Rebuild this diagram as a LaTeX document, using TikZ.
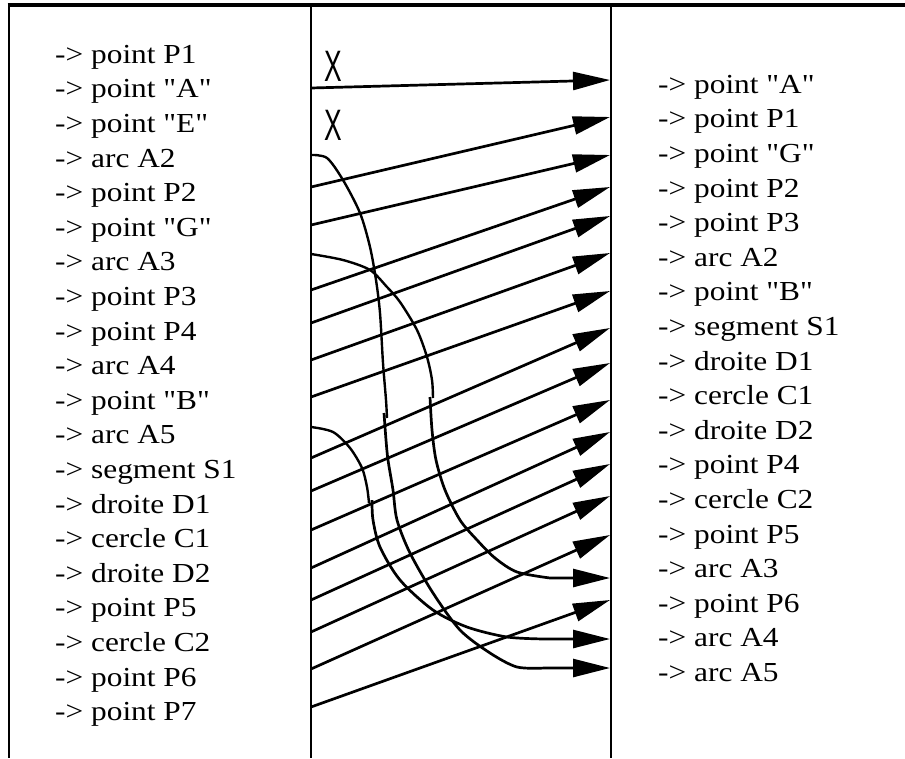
\documentclass[tikz,border=0pt]{standalone}
\usepackage{fontspec}
\setmainfont{Liberation Serif}[FakeStretch=1.14,Ligatures=TeXOff]
\newfontfamily\xfont{Liberation Sans}
\usetikzlibrary{arrows.meta}
\begin{document}
\begin{tikzpicture}[x=1pt,y=-1pt,
  frame/.style={line width=2.5pt},
  topline/.style={line width=3.4pt},
  conn/.style={line width=2.7pt,-{Triangle[length=37pt,width=18pt]}},
  arcline/.style={line width=2.4pt},
  item/.style={anchor=base west,inner sep=0pt,font=\fontsize{27.5}{34.6}\selectfont},
  xmark/.style={inner sep=0pt,font=\xfont\fontsize{44}{44}\selectfont,xscale=0.6}]
\useasboundingbox (0,0) rectangle (905,758);
% frame
\coordinate (tl) at (7.5,5); \coordinate (tr) at (905,5);
\draw[topline] (tl) -- (tr);
\foreach \x [count=\k] in {9,311,611} {
  \coordinate (vt\k) at (\x,5); \coordinate (vb\k) at (\x,758);
  \draw[frame] (vt\k) -- (vb\k);
}
% left list
\foreach \t [count=\i from 0] in {{-> point P1},{-> point "A"},{-> point "E"},{-> arc A2},{-> point P2},{-> point "G"},{-> arc A3},{-> point P3},{-> point P4},{-> arc A4},{-> point "B"},{-> arc A5},{-> segment S1},{-> droite D1},{-> cercle C1},{-> droite D2},{-> point P5},{-> cercle C2},{-> point P6},{-> point P7}}
  \node[item] (l\i) at (55,63.3+34.6*\i) {\t};
% right list
\foreach \t [count=\i from 0] in {{-> point "A"},{-> point P1},{-> point "G"},{-> point P2},{-> point P3},{-> arc A2},{-> point "B"},{-> segment S1},{-> droite D1},{-> cercle C1},{-> droite D2},{-> point P4},{-> cercle C2},{-> point P5},{-> arc A3},{-> point P6},{-> arc A4},{-> arc A5}}
  \node[item] (r\i) at (658,93.3+34.6*\i) {\t};
% X marks
\node[xmark] (x1) at (333,66) {X};
\node[xmark] (x2) at (333,125) {X};
% straight connectors
\foreach \a/\b [count=\k] in {88/80,187/117,225/155,290/187,323/216,360/253,397/291,458/328,491/363,530/400,568/432,600/464,632/496,669/535,707/600} {
  \coordinate (s\k) at (311,\a);
  \coordinate (t\k) at (610,\b);
  \draw[conn] (s\k) -- (t\k);
}
% curved connectors
\coordinate (sa2) at (311,155); \coordinate (ta5) at (610,668);
\coordinate (sa3) at (311,254); \coordinate (ta3) at (610,578);
\coordinate (sa5) at (311,427); \coordinate (ta4) at (610,639);
\draw[arcline] plot[smooth] coordinates {(sa2) (327,158) (343,180) (360,213) (370,247) (376,280) (380,313) (383,363) (386,400) (387,418)};
\draw[conn] plot[smooth] coordinates {(384,413) (386,440) (388,460) (393,490) (397,520) (410,553) (433,593) (460,630) (490,653) (517,667) (545,668)} -- (ta5);
\draw[arcline] plot[smooth] coordinates {(sa3) (343,260) (370,270) (387,287) (400,302) (417,330) (427,357) (432,380) (433,398)};
\draw[conn] plot[smooth] coordinates {(430,397) (432,430) (436,460) (445,490) (460,520) (477,540) (495,558) (517,572) (550,578)} -- (ta3);
\draw[arcline] plot[smooth] coordinates {(sa5) (333,432) (350,448) (362,468) (367,487) (369,503)};
\draw[conn] plot[smooth] coordinates {(372,500) (373,520) (380,547) (400,580) (433,610) (467,627) (507,637) (545,639)} -- (ta4);
\end{tikzpicture}
\end{document}
